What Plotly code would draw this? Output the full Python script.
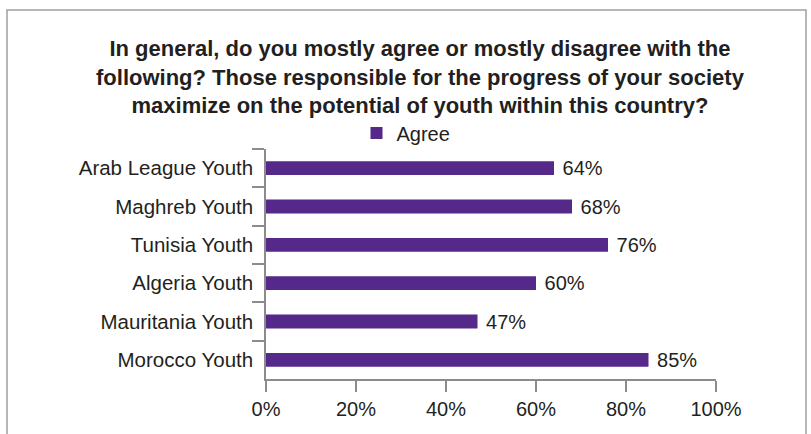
import plotly.graph_objects as go

categories = ["Arab League Youth", "Maghreb Youth", "Tunisia Youth",
              "Algeria Youth", "Mauritania Youth", "Morocco Youth"]
agree = [64, 68, 76, 60, 47, 85]
x_ticks = [0, 20, 40, 60, 80, 100]
x_tick_labels = ["0%", "20%", "40%", "60%", "80%", "100%"]
title_text = ("In general, do you mostly agree or mostly disagree with the<br>"
              "following? Those responsible for the progress of your society<br>"
              "maximize on the potential of youth within this country?")

W, H = 811, 434
L, R, T, B = 266, 716, 149, 379
pw, ph = R - L, B - T

def fx(px):
    return (px - L) / pw

def fy(py):
    return (B - py) / ph

BAR = "#55298A"
TXT = "#231F20"
AX = "#8C8C8C"
FONT = "Liberation Sans, Arial, Helvetica, sans-serif"

fig = go.Figure()
fig.add_trace(go.Bar(
    x=agree, y=categories, orientation="h", name="Agree",
    marker=dict(color=BAR, line=dict(width=0)),
    width=0.36,
    text=[f" {v}%" for v in agree], textposition="outside",
    textfont=dict(size=20, color=TXT, family=FONT),
    constraintext="none",
    cliponaxis=False,
))

fig.update_layout(
    width=W, height=H,
    margin=dict(l=L, r=W - R, t=T, b=H - B, pad=0, autoexpand=False),
    paper_bgcolor="white", plot_bgcolor="white",
    font=dict(family=FONT, color=TXT, size=20),
    showlegend=True,
    legend=dict(orientation="h", x=fx(406), y=fy(133), xanchor="center",
                yanchor="middle", font=dict(size=20, color=TXT),
                bgcolor="rgba(0,0,0,0)", itemwidth=30),
    uniformtext=dict(mode=False),
)
fig.update_xaxes(
    range=[0, 100], tickvals=x_ticks, ticktext=x_tick_labels,
    showgrid=False, zeroline=False, showline=True, linecolor=AX, linewidth=1.5,
    ticks="outside", ticklen=11, tickcolor=AX, tickwidth=1.5,
    tickfont=dict(size=20, color=TXT), fixedrange=True, automargin=False,
)
fig.update_yaxes(
    categoryorder="array", categoryarray=categories, autorange="reversed",
    showgrid=False, zeroline=False, showline=True, linecolor=AX, linewidth=1.5,
    ticks="outside", ticklen=12, tickcolor=AX, tickwidth=1.5, tickson="boundaries",
    ticklabelstandoff=7,
    tickfont=dict(size=20.5, color=TXT), fixedrange=True, automargin=False,
)

fig.add_annotation(
    text=title_text, xref="paper", yref="paper", x=fx(420), y=fy(77),
    xanchor="center", yanchor="middle", showarrow=False, align="center",
    font=dict(size=22, color=TXT, family=FONT, weight="bold"),
)

fig.add_shape(type="rect", xref="paper", yref="paper",
              x0=fx(7), x1=fx(806), y0=fy(445), y1=fy(10),
              line=dict(color="#A0A0A0", width=1.5), fillcolor="rgba(0,0,0,0)",
              layer="below")

fig.write_html("out.html", config={"displayModeBar": False},
               post_script="document.body.style.margin='0';document.body.style.overflow='hidden';")
